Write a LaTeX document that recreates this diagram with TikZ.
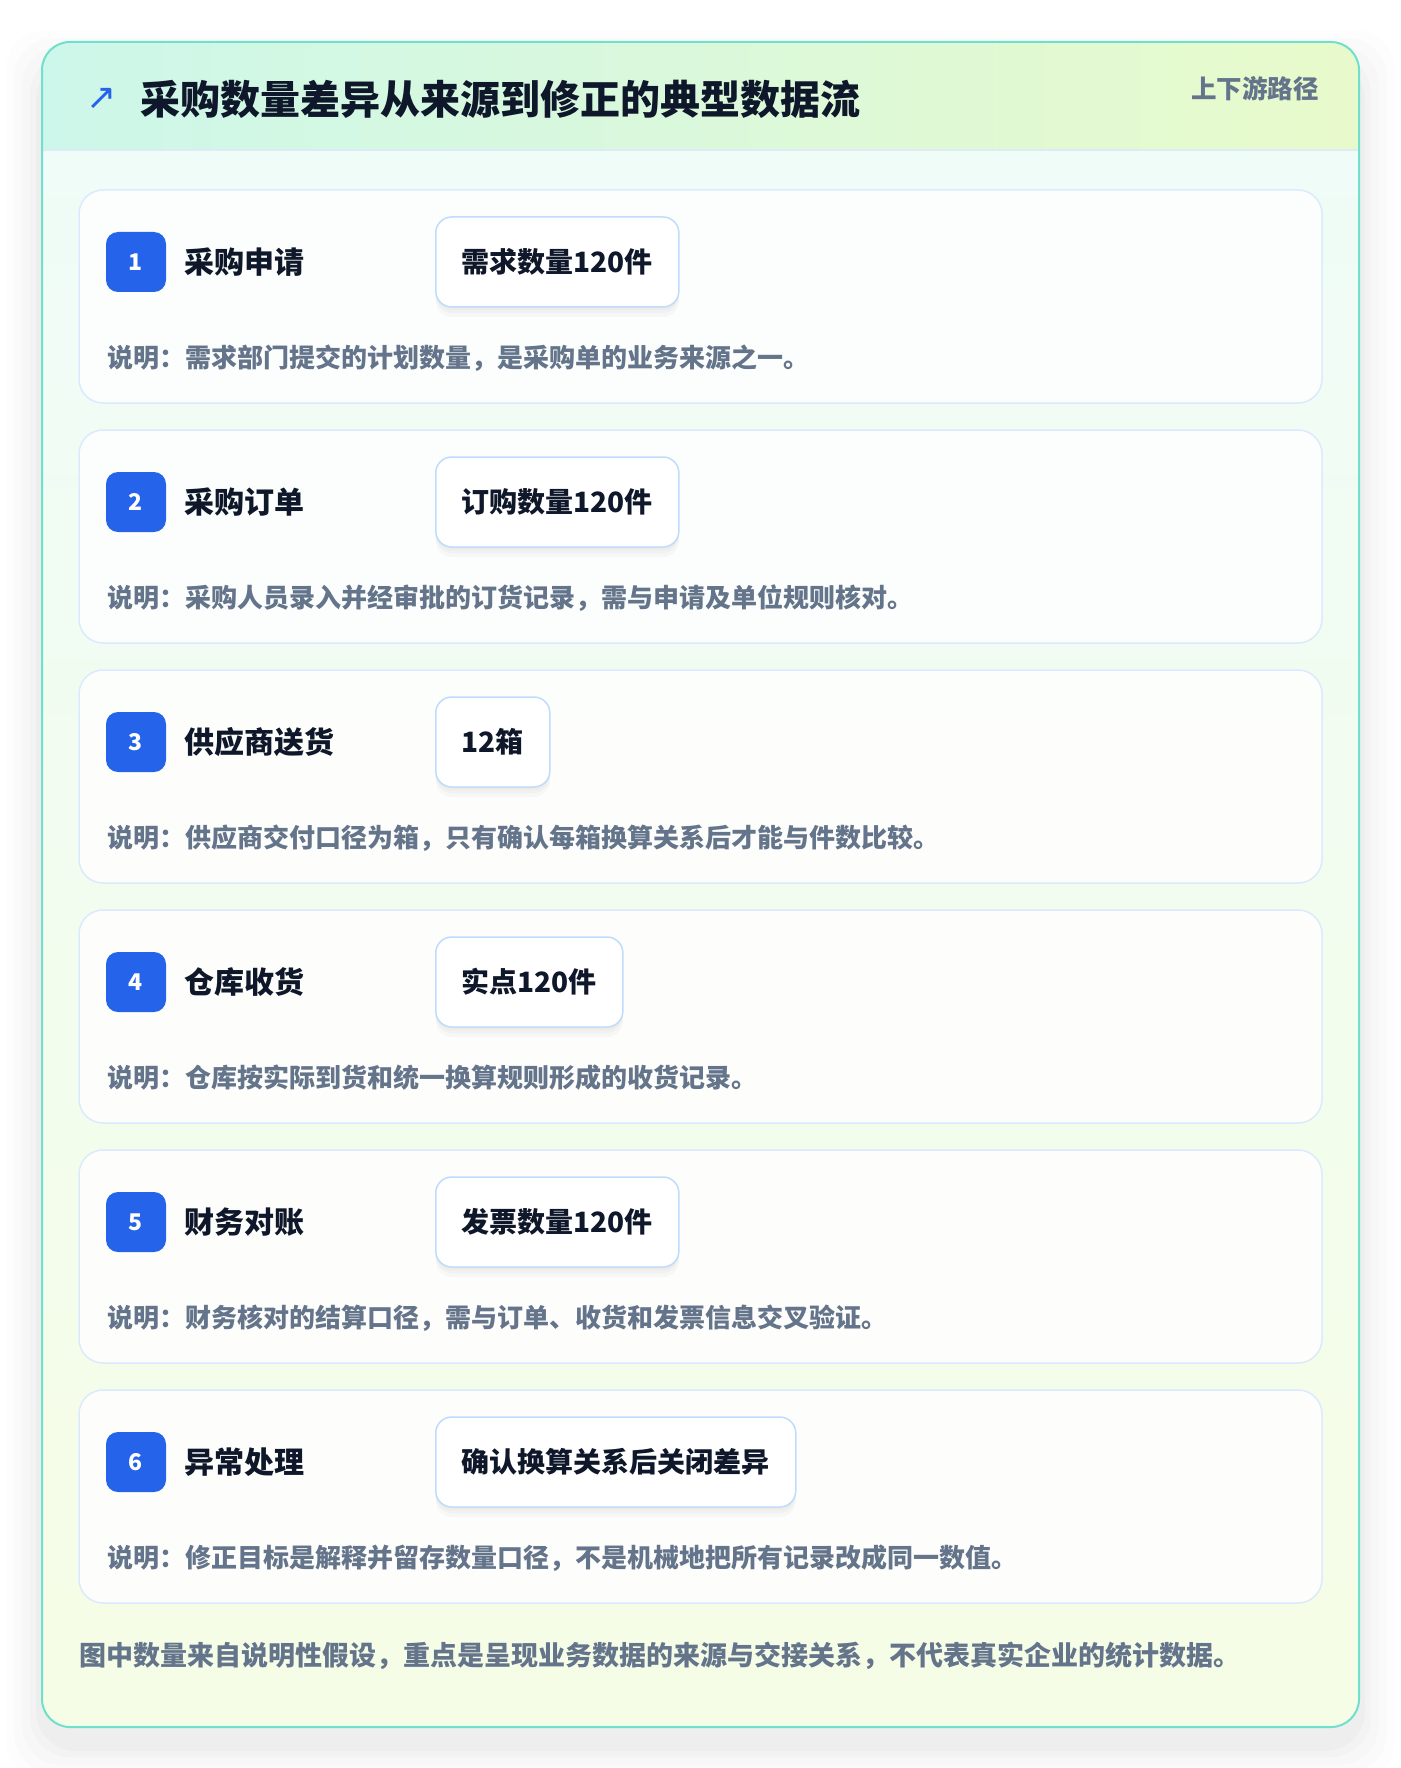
\documentclass[tikz,border=0pt]{standalone}
\usepackage{fontspec}
\setmainfont{Noto Sans CJK SC}
\newfontfamily\symfont{DejaVu Sans}
\definecolor{tealborder}{HTML}{6EE0CC}
\definecolor{hdrleft}{HTML}{CDF7EA}
\definecolor{hdrright}{HTML}{E8FACB}
\definecolor{bodytop}{HTML}{EFFCF7}
\definecolor{bodybot}{HTML}{F6FDE6}
\definecolor{cardborder}{HTML}{DBEAFE}
\definecolor{valborder}{HTML}{BFDBFE}
\definecolor{badgeblue}{HTML}{2563EB}
\definecolor{titleink}{HTML}{0F172A}
\definecolor{mutedink}{HTML}{64748B}
\definecolor{hdrline}{HTML}{DCEBF5}
\tikzset{
  cardbox/.style={draw=cardborder, line width=1.5pt, fill=white, fill opacity=0.85, draw opacity=1, rounded corners=24pt, minimum width=1243pt, minimum height=213pt, inner sep=0pt},
  badge/.style={fill=badgeblue, rounded corners=12pt, minimum width=60pt, minimum height=60pt, inner sep=0pt, text=white, font=\bfseries\fontsize{23}{26}\selectfont},
  steptitle/.style={anchor=west, inner sep=0pt, text=titleink, font=\bfseries\fontsize{30}{36}\selectfont},
  softshadow/.style={preaction={fill=black, fill opacity=0.025, draw=none, transform canvas={yshift=-10pt}},
                     preaction={fill=black, fill opacity=0.025, draw=none, transform canvas={yshift=-6pt}},
                     preaction={fill=black, fill opacity=0.02, draw=none, transform canvas={yshift=-3pt}}},
  valbox/.style={anchor=west, draw=valborder, line width=1.5pt, fill=white, rounded corners=16pt, minimum height=90pt, inner xsep=26pt, inner ysep=0pt, text=titleink, font=\bfseries\fontsize{28}{34}\selectfont, softshadow},
  desctext/.style={anchor=west, inner sep=0pt, text=mutedink, font=\bfseries\fontsize{26}{30}\selectfont},
}
\begin{document}
\begin{tikzpicture}[x=1pt, y=-1pt]
\useasboundingbox (0,0) rectangle (1400,1768);
\fill[white] (0,0) rectangle (1400,1768);
% outer shadow
\foreach \k/\op in {36/0.008,28/0.01,20/0.012,12/0.015,6/0.018}{
  \fill[black, opacity=\op, rounded corners=40pt] (42-\k,42-\k+24) rectangle (1359+\k,1727+\k+18);
}
% card backgrounds
\begin{scope}
\clip[rounded corners=28pt] (42,42) rectangle (1359,1727);
\shade[top color=bodytop, bottom color=bodybot] (42,150) rectangle (1359,1727);
\shade[left color=hdrleft, right color=hdrright] (42,42) rectangle (1359,150);
\draw[hdrline, line width=2pt] (42,150) -- (1359,150);
\end{scope}
\node[draw=tealborder, line width=2pt, rounded corners=28pt, minimum width=1317pt, minimum height=1685pt, inner sep=0pt] (outer) at (700.5,884.5) {};
% header
\node[anchor=center, inner sep=0pt, text=badgeblue, font=\symfont\fontsize{36}{40}\selectfont] (icon) at (102,99) {↗};
\node[anchor=west, inner sep=0pt, text=titleink, font=\bfseries\fontsize{40}{48}\selectfont] (title) at (140,99) {采购数量差异从来源到修正的典型数据流};
\node[anchor=east, inner sep=0pt, text=mutedink, font=\bfseries\fontsize{25.5}{30}\selectfont] (tag) at (1319,89) {上下游路径};
% steps
\foreach \i/\ttl/\val/\dsc in {
  1/采购申请/需求数量120件/说明：需求部门提交的计划数量，是采购单的业务来源之一。,
  2/采购订单/订购数量120件/说明：采购人员录入并经审批的订货记录，需与申请及单位规则核对。,
  3/供应商送货/12箱/说明：供应商交付口径为箱，只有确认每箱换算关系后才能与件数比较。,
  4/仓库收货/实点120件/说明：仓库按实际到货和统一换算规则形成的收货记录。,
  5/财务对账/发票数量120件/说明：财务核对的结算口径，需与订单、收货和发票信息交叉验证。,
  6/异常处理/确认换算关系后关闭差异/说明：修正目标是解释并留存数量口径，不是机械地把所有记录改成同一数值。}{
  \pgfmathsetmacro{\top}{190+240*(\i-1)}
  \node[cardbox] (card\i) at (700.5,\top+106.5) {};
  \node[badge] (badge\i) at (136,\top+72) {\i};
  \node[steptitle] (name\i) at (184,\top+72) {\ttl};
  \node[valbox] (val\i) at (435,\top+72) {\val};
  \node[desctext] (desc\i) at (107,\top+168) {\dsc};
}
% footer
\node[anchor=west, inner sep=0pt, text=mutedink, font=\bfseries\fontsize{27}{30}\selectfont] (note) at (79,1656) {图中数量来自说明性假设，重点是呈现业务数据的来源与交接关系，不代表真实企业的统计数据。};
\end{tikzpicture}
\end{document}
